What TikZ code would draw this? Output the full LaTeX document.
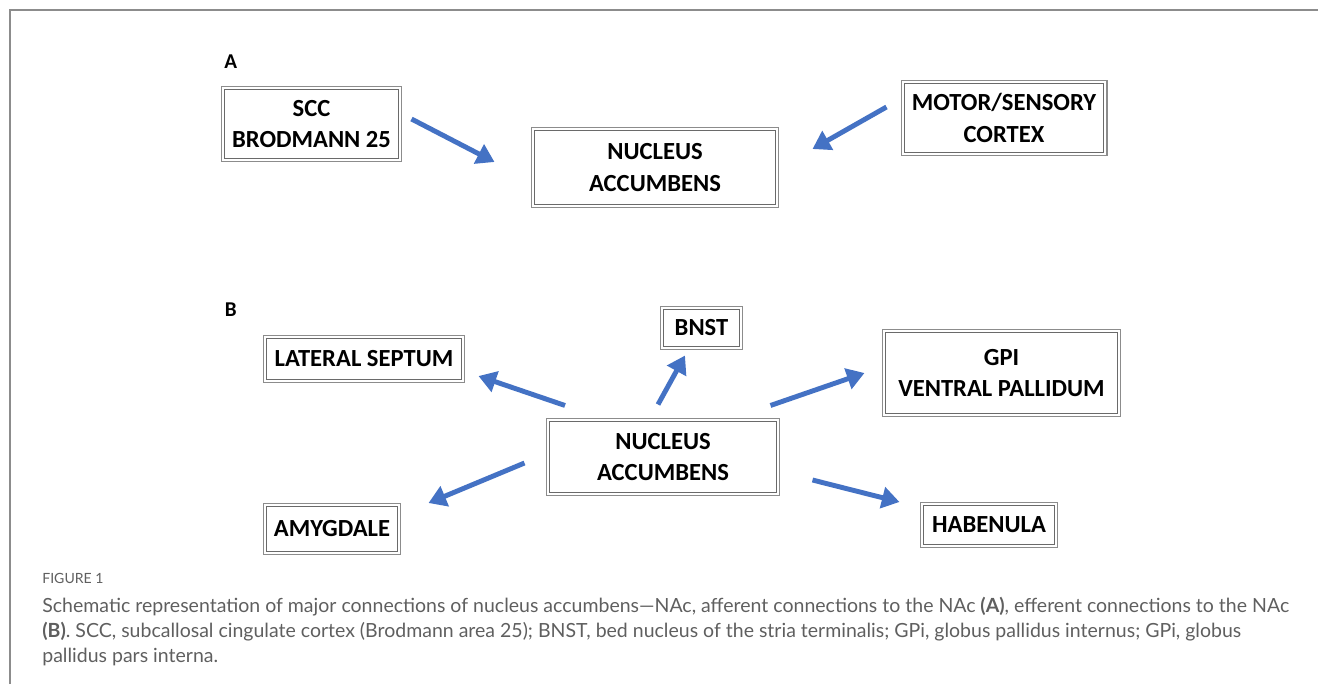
\documentclass[tikz,border=0pt]{standalone}
\usepackage{fontspec}
\setmainfont{Carlito}
\newfontfamily\capfont{Lato}
\usepackage{xcolor}
\usetikzlibrary{arrows.meta,positioning}

\definecolor{nacblue}{HTML}{4472C4}
\definecolor{boxgray}{HTML}{8C8C8C}
\definecolor{innergray}{HTML}{6A6A6A}
\definecolor{capgray}{HTML}{5F5F5F}

\begin{document}
\begin{tikzpicture}[
    x=0.02cm, y=-0.02cm,
    box/.style={rectangle, draw=boxgray, line width=0.6pt, align=center, inner sep=0pt,
                font=\fontsize{14}{18}\selectfont\bfseries,
                path picture={\draw[innergray, line width=0.6pt]
                    ([shift={(1.8pt,-1.8pt)}]path picture bounding box.north west) rectangle
                    ([shift={(-1.8pt,1.8pt)}]path picture bounding box.south east);}},
    arrow/.style={-{Triangle[length=10pt, width=12pt]}, line width=2.8pt, draw=nacblue},
    panel/.style={inner sep=0pt, font=\fontsize{12}{14}\selectfont\bfseries}
]
\useasboundingbox (0,0) rectangle (1319,684);

% Frame
\draw[boxgray, line width=1.1pt] (10,684) -- (10,10) -- (1318,10);

% Panel A: afferent connections
\node[box, minimum width=3.6cm, minimum height=1.5cm] (scc) at (311.5,124) {SCC\\BRODMANN 25};
\node[box, minimum width=4.94cm, minimum height=1.6cm] (nac1) at (655,167.5) {NUCLEUS\\ACCUMBENS};
\node[box, minimum width=4.12cm, minimum height=1.5cm] (motor) at (1004,118) {MOTOR/SENSORY\\CORTEX};
\node[panel, above right=0.34cm and 0.06cm of scc.north west] (labA) {A};

% Panel B: efferent connections
\node[box, minimum width=4.66cm, minimum height=1.54cm] (nac2) at (663,457) {NUCLEUS\\ACCUMBENS};
\node[box, minimum width=4.02cm, minimum height=0.94cm] (lsept) at (364,359) {LATERAL SEPTUM};
\node[box, minimum width=1.64cm, minimum height=0.86cm] (bnst) at (701.5,328) {BNST};
\node[box, minimum width=4.76cm, minimum height=1.74cm] (gpi) at (1001.5,373) {GPI\\VENTRAL PALLIDUM};
\node[box, minimum width=2.74cm, minimum height=1.02cm] (amyg) at (332,529) {AMYGDALE};
\node[box, minimum width=2.74cm, minimum height=0.9cm] (hab) at (989,525) {HABENULA};
\node[panel, above left=0.36cm and 0.52cm of lsept.north west] (labB) {B};

% Arrows
\draw[arrow] ([shift={(9.5,-5)}]scc.east) -- ([shift={(-36.5,-5.5)}]nac1.west);
\draw[arrow] ([shift={(-14,-11)}]motor.west) -- ([shift={(33.5,-18.5)}]nac1.east);
\draw[arrow] ([shift={(-98,-12.5)}]nac2.north) -- ([shift={(13.5,17)}]lsept.east);
\draw[arrow] ([shift={(-5,-13.5)}]nac2.north) -- ([shift={(-16.5,5.5)}]bnst.south);
\draw[arrow] ([shift={(-9.5,-12.5)}]nac2.north east) -- ([shift={(-17.5,0)}]gpi.west);
\draw[arrow] ([shift={(-21.5,6)}]nac2.west) -- ([shift={(27.5,-26)}]amyg.east);
\draw[arrow] ([shift={(32.5,23)}]nac2.east) -- ([shift={(-20.5,-23)}]hab.west);

% Caption
\node[anchor=base west, inner sep=0pt, text=capgray, font=\capfont\fontsize{8}{10}\selectfont] (figlabel) at (42,583) {FIGURE 1};
\node[anchor=north west, inner sep=0pt, align=left, text=capgray, font=\capfont\fontsize{11.1}{14.2}\selectfont] (caption) at (42,597)
  {Schematic representation of major connections of nucleus accumbens—NAc, afferent connections to the NAc \textbf{(A)}, efferent connections to the NAc\\
   \textbf{(B)}. SCC, subcallosal cingulate cortex (Brodmann area 25); BNST, bed nucleus of the stria terminalis; GPi, globus pallidus internus; GPi, globus\\
   pallidus pars interna.};

\end{tikzpicture}
\end{document}
